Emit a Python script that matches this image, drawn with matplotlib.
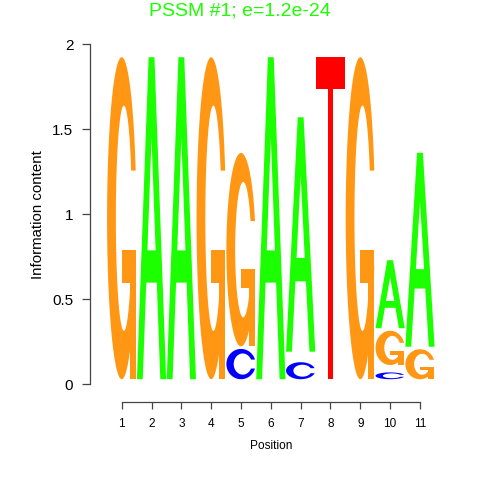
import matplotlib
matplotlib.use("Agg")
from matplotlib import pyplot as plt
from matplotlib.patches import Polygon
import numpy as np

# motif columns, letters listed bottom to top with their heights (bits)
# '-' is leftover height from letters too thin to be drawn
positions = [1, 2, 3, 4, 5, 6, 7, 8, 9, 10, 11]
stacks = [
    [("G", 1.894)],
    [("A", 1.894)],
    [("A", 1.894)],
    [("G", 1.894)],
    [("C", 0.178), ("G", 1.138)],
    [("A", 1.894)],
    [("C", 0.100), ("-", 0.032), ("A", 1.379)],
    [("T", 1.894)],
    [("G", 1.894)],
    [("C", 0.040), ("-", 0.0135), ("G", 0.2015), ("A", 0.400)],
    [("G", 0.176), ("A", 1.141)],
]
yticks = [0, 0.5, 1, 1.5, 2]
yticklabels = ["0", "0.5", "1", "1.5", "2"]
title = "PSSM #1; e=1.2e-24"

colors = {"A": "#1CFF00", "C": "#0000FF", "G": "#FF9614", "T": "#FF0000"}
base = 0.03
gap = 0.015
width = 0.98

plt.rcParams["font.family"] = ["Liberation Sans", "DejaVu Sans"]


# letter outlines in a unit box, seqLogo style polygons
def ring_shape(cx, rx):
    a1 = np.linspace(0.3 + np.pi / 2, np.pi, 100)
    a2 = np.linspace(np.pi, 1.5 * np.pi, 100)
    xl = np.concatenate([0.5 + 0.5 * np.sin(a1), 0.5 + 0.5 * np.sin(a2)])
    yl = np.concatenate([0.5 + 0.5 * np.cos(a1), 0.5 + 0.5 * np.cos(a2)])
    x = np.concatenate([xl, xl[::-1]])
    y = np.concatenate([yl, 1 - yl[::-1]])
    hmax = yl[:100].max()
    xi1 = cx + rx * np.sin(a1)
    yi1 = 0.5 + 0.35 * np.cos(a1)
    keep = yi1 <= hmax
    xi1, yi1 = xi1[keep], yi1[keep]
    yi1[0] = hmax
    xi = np.concatenate([xi1, cx + rx * np.sin(a2)])
    yi = np.concatenate([yi1, 0.5 + 0.35 * np.cos(a2)])
    x1 = np.concatenate([xi, xi[::-1]])
    y1 = np.concatenate([yi, 1 - yi[::-1]])
    x = np.concatenate([x, x1[::-1]])
    y = np.concatenate([y, y1[::-1]])
    return x, y, xl[:100].max()


def letter_polys(letter):
    if letter == "A":
        outer = np.array([[0, 0], [4, 10], [6, 10], [10, 0], [8, 0], [6.8, 3], [3.2, 3], [2, 0]]) * 0.1
        hole = np.array([[3.6, 4], [5, 7.5], [6.4, 4]]) * 0.1
        return [outer], [hole]
    if letter == "T":
        outer = np.array([[0, 10], [10, 10], [10, 9], [6, 9], [6, 0], [4, 0], [4, 9], [0, 9]]) * 0.1
        return [outer], []
    if letter == "C":
        x, y, r1 = ring_shape(0.56, 0.31)
        return [np.column_stack([x, y])], []
    x, y, r1 = ring_shape(0.575, 0.275)
    h1 = 0.4
    add = np.array([[r1, h1], [0.5, h1], [0.5, h1 - 0.1], [r1 - 0.2, h1 - 0.1],
                    [r1 - 0.2, 0], [r1, 0], [r1, h1]])
    return [np.column_stack([x, y]), add], []


def draw_letter(ax, letter, xc, y0, w, h, color):
    polys, holes = letter_polys(letter)
    for p, c in [(p, color) for p in polys] + [(p, "white") for p in holes]:
        xy = np.column_stack([xc - w / 2 + w * p[:, 0], y0 + h * p[:, 1]])
        ax.add_patch(Polygon(xy, closed=True, facecolor=c, edgecolor="none", clip_on=False))


fig = plt.figure(figsize=(4.8, 4.8), dpi=100)
ax = fig.add_axes([90 / 480, (480 - 384.3) / 480, (449.8 - 90) / 480, 340 / 480])

for x, stack in zip(positions, stacks):
    y = base
    for letter, h in stack:
        if letter != "-":
            draw_letter(ax, letter, x, y, width, h, colors[letter])
        y += h + gap

ax.set_xlim(1 - 31.7 / 29.83, 12)
ax.set_ylim(0, 2)

axcol = "#444444"
for s in ["top", "right"]:
    ax.spines[s].set_visible(False)
ax.spines["left"].set_bounds(0, 2)
ax.spines["left"].set_color(axcol)
ax.spines["bottom"].set_position(("outward", 12.5))
ax.spines["bottom"].set_bounds(1, 11)
ax.spines["bottom"].set_color(axcol)
for s in ["left", "bottom"]:
    ax.spines[s].set_linewidth(0.9)

ax.set_xticks(positions)
ax.set_xticklabels([str(p) for p in positions], fontsize=8.5)
ax.set_yticks(yticks)
ax.set_yticklabels(yticklabels, fontsize=11)
ax.tick_params(axis="y", length=6, width=0.9, color=axcol, pad=6)
ax.tick_params(axis="x", length=5, width=0.9, color=axcol, pad=7)

fig.text(37.5 / 480, 1 - 215 / 480, "Information content", rotation=90,
         ha="center", va="center", fontsize=10.8)
fig.text(271 / 480, 1 - 446 / 480, "Position", ha="center", va="center", fontsize=8.6)
fig.text(240 / 480, 1 - 15 / 480, title, ha="center", va="baseline",
         fontsize=14, color=colors["A"])

fig.savefig("out.png", dpi=100)
